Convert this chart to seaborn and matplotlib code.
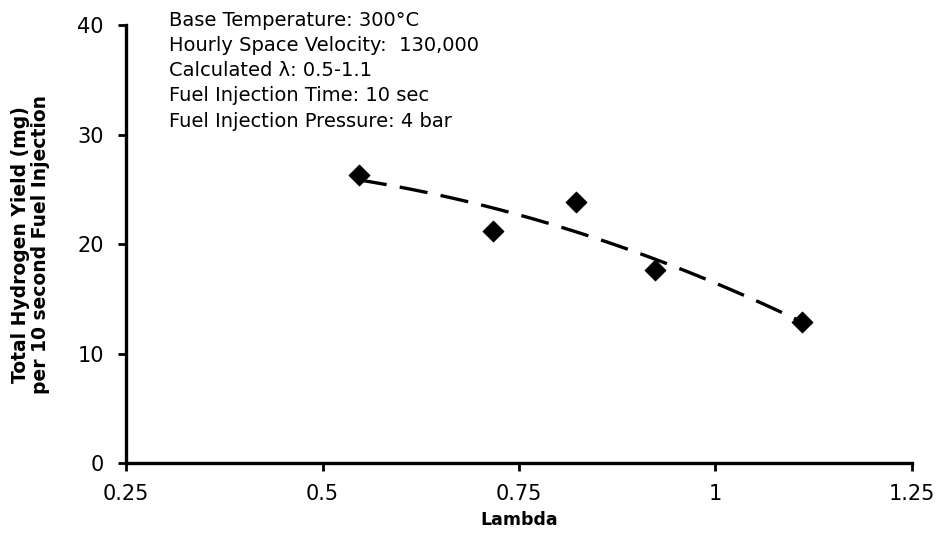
import numpy as np
import pandas as pd
import matplotlib
matplotlib.use("Agg")
import matplotlib.pyplot as plt
import seaborn as sns

# Measured hydrogen yield against lambda
lam = [0.546, 0.717, 0.823, 0.923, 1.110]
h2_yield = [26.3, 21.2, 23.8, 17.6, 12.9]

x_ticks = [0.25, 0.5, 0.75, 1, 1.25]
x_tick_labels = ["0.25", "0.5", "0.75", "1", "1.25"]
y_ticks = [0, 10, 20, 30, 40]

notes = [
    "Base Temperature: 300°C",
    "Hourly Space Velocity:  130,000",
    "Calculated λ: 0.5-1.1",
    "Fuel Injection Time: 10 sec",
    "Fuel Injection Pressure: 4 bar",
]

df = pd.DataFrame({"Lambda": lam, "Yield": h2_yield})

sns.set_theme(style="white")
plt.rcParams["font.family"] = ["DejaVu Sans"]

fig = plt.figure(figsize=(9.41, 5.33), dpi=100)
ax = fig.add_axes([0.134, 0.131, 0.835, 0.822])

# Second-order polynomial trend through the measurements
coef = np.polyfit(df["Lambda"], df["Yield"], 2)
xs = np.linspace(df["Lambda"].min(), df["Lambda"].max(), 100)
trend = pd.DataFrame({"Lambda": xs, "Yield": np.polyval(coef, xs)})
sns.lineplot(data=trend, x="Lambda", y="Yield", ax=ax, color="black",
             linewidth=2.4, linestyle=(0, (8.5, 4)))

sns.scatterplot(data=df, x="Lambda", y="Yield", ax=ax, marker="D",
                s=110, color="black", edgecolor="black", zorder=5)

ax.set_xlim(0.25, 1.25)
ax.set_ylim(0, 40)
ax.set_xticks(x_ticks)
ax.set_xticklabels(x_tick_labels)
ax.set_yticks(y_ticks)

for side in ("top", "right"):
    ax.spines[side].set_visible(False)
for side in ("left", "bottom"):
    ax.spines[side].set_color("black")
    ax.spines[side].set_linewidth(2.4)

ax.tick_params(axis="both", which="major", direction="out", length=6,
               width=2, color="black", labelsize=15, labelcolor="black",
               left=True, bottom=True)
ax.tick_params(axis="x", pad=9)
ax.tick_params(axis="y", pad=10)

ax.set_xlabel("Lambda", fontsize=12.5, fontweight="bold", labelpad=5,
              color="black")
ax.set_ylabel("Total Hydrogen Yield (mg)\nper 10 second Fuel Injection",
              fontsize=13.5, fontweight="bold", labelpad=20, linespacing=1.05,
              color="black")

ax.text(0.054, 1.033, "\n".join(notes), transform=ax.transAxes,
        ha="left", va="top", fontsize=14, linespacing=1.42, color="black")

fig.savefig("out.png", dpi=100)
